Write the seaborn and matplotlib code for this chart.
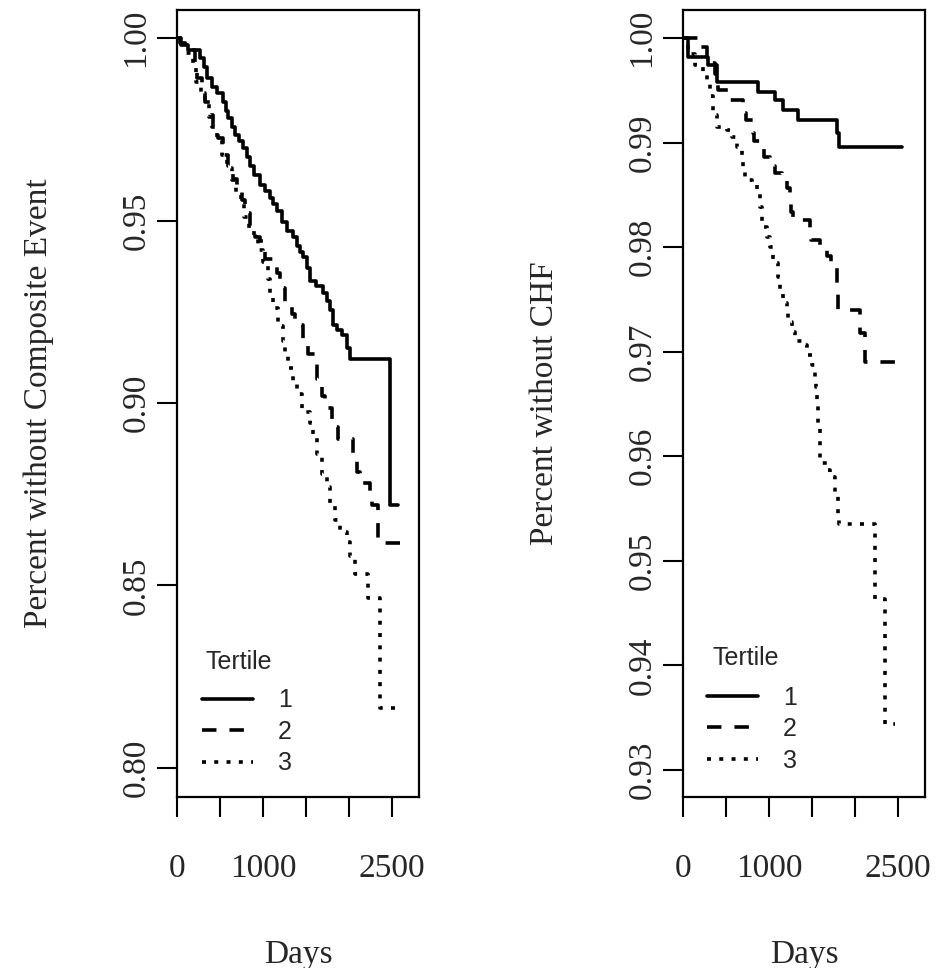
import pandas as pd
import numpy as np
import matplotlib
matplotlib.use("Agg")
import matplotlib.pyplot as plt
import seaborn as sns

# ---- Kaplan-Meier step values (days, survival) ----
# left panel: composite event
comp_t1_days = [0, 50, 128, 267, 310, 348, 406, 470, 534, 570, 592, 638, 673, 720, 766, 810,
                847, 900, 963, 1020, 1079, 1120, 1160, 1218, 1280, 1346, 1392, 1430, 1462, 1508,
                1543, 1620, 1694, 1740, 1775, 1810, 1860, 1914, 1972, 2007, 2471, 2564]
comp_t1_surv = [1.0, 0.998, 0.9967, 0.9945, 0.992, 0.989, 0.9865, 0.985, 0.9825, 0.980, 0.978,
                0.9755, 0.9735, 0.9718, 0.970, 0.9675, 0.965, 0.9625, 0.9598, 0.958, 0.9562,
                0.9545, 0.9525, 0.9495, 0.947, 0.9455, 0.943, 0.9415, 0.940, 0.937, 0.9335,
                0.932, 0.930, 0.928, 0.9255, 0.9215, 0.920, 0.9185, 0.915, 0.912, 0.872, 0.872]

comp_t2_days = [0, 35, 116, 209, 232, 290, 325, 383, 418, 476, 534, 592, 650, 696, 754, 789,
                847, 905, 960, 1025, 1160, 1195, 1253, 1334, 1369, 1462, 1520, 1601, 1624, 1682,
                1717, 1798, 1833, 1868, 2042, 2088, 2123, 2239, 2262, 2340, 2668]
comp_t2_surv = [1.0, 0.9986, 0.9967, 0.993, 0.989, 0.985, 0.9825, 0.979, 0.976, 0.9725, 0.968,
                0.965, 0.9615, 0.958, 0.9555, 0.952, 0.9485, 0.9455, 0.9445, 0.9395, 0.9355,
                0.9315, 0.9275, 0.9245, 0.9215, 0.917, 0.9135, 0.911, 0.9065, 0.902, 0.8985,
                0.895, 0.8935, 0.890, 0.886, 0.881, 0.878, 0.8755, 0.872, 0.8615, 0.8615]

comp_t3_days = [0, 30, 100, 190, 225, 280, 320, 370, 410, 465, 520, 580, 640, 690, 745, 780,
                840, 895, 940, 1000, 1056, 1079, 1114, 1172, 1230, 1253, 1288, 1346, 1392, 1450,
                1543, 1578, 1624, 1682, 1740, 1775, 1833, 1891, 1972, 2007, 2065, 2216, 2355, 2530]
comp_t3_surv = [1.0, 0.9985, 0.996, 0.9925, 0.988, 0.9845, 0.982, 0.9785, 0.9755, 0.972, 0.968,
                0.9645, 0.961, 0.9575, 0.955, 0.951, 0.948, 0.945, 0.942, 0.9385, 0.934, 0.930,
                0.926, 0.921, 0.917, 0.913, 0.9095, 0.906, 0.9025, 0.8975, 0.8945, 0.8905, 0.886,
                0.8805, 0.877, 0.8725, 0.868, 0.8645, 0.862, 0.858, 0.853, 0.8465, 0.8165, 0.8165]

# right panel: CHF
chf_t1_days = [0, 58, 290, 394, 870, 1067, 1160, 1334, 1786, 1810, 2552]
chf_t1_surv = [1.0, 0.9982, 0.9974, 0.9958, 0.9948, 0.9941, 0.9931, 0.9922, 0.9909, 0.9896, 0.9896]

chf_t2_days = [0, 180, 275, 371, 406, 545, 696, 730, 812, 830, 916, 940, 1009, 1067, 1148, 1206,
               1241, 1255, 1276, 1473, 1490, 1589, 1670, 1720, 1786, 1798, 2053, 2115, 2600]
chf_t2_surv = [1.0, 0.9991, 0.9976, 0.9966, 0.995, 0.9941, 0.9928, 0.9922, 0.9909, 0.9902, 0.9896,
               0.9886, 0.9878, 0.9871, 0.9864, 0.9857, 0.9845, 0.9834, 0.9826, 0.9816, 0.9807,
               0.980, 0.9792, 0.978, 0.9765, 0.974, 0.9718, 0.969, 0.969]

chf_t3_days = [0, 60, 140, 232, 278, 313, 348, 394, 510, 568, 626, 684, 696, 719, 800, 858, 893,
               916, 974, 1009, 1044, 1102, 1125, 1160, 1206, 1218, 1264, 1299, 1392, 1438, 1497,
               1531, 1545, 1554, 1566, 1589, 1670, 1705, 1763, 1798, 1810, 2227, 2350, 2460]
chf_t3_surv = [1.0, 0.9985, 0.9974, 0.9966, 0.9957, 0.9945, 0.9926, 0.9915, 0.9912, 0.9905, 0.9896,
               0.9888, 0.9877, 0.9864, 0.9859, 0.9851, 0.9838, 0.9819, 0.981, 0.98, 0.9785, 0.9771,
               0.9759, 0.9747, 0.974, 0.9728, 0.9719, 0.971, 0.9706, 0.9697, 0.9687, 0.9676,
               0.9666, 0.9648, 0.963, 0.9594, 0.9587, 0.958, 0.9565, 0.9545, 0.9535, 0.9464,
               0.9344, 0.9344]

tertiles = ["1", "2", "3"]
x_ticks = [0, 500, 1000, 1500, 2000, 2500]
x_ticklabels = ["0", "", "1000", "", "", "2500"]
comp_yticks = [0.80, 0.85, 0.90, 0.95, 1.00]
chf_yticks = [0.93, 0.94, 0.95, 0.96, 0.97, 0.98, 0.99, 1.00]


def make_frame(series):
    parts = []
    for tert, (d, s) in zip(tertiles, series):
        parts.append(pd.DataFrame({"days": d, "surv": s, "tertile": tert}))
    return pd.concat(parts, ignore_index=True)


comp = make_frame([(comp_t1_days, comp_t1_surv), (comp_t2_days, comp_t2_surv),
                   (comp_t3_days, comp_t3_surv)])
chf = make_frame([(chf_t1_days, chf_t1_surv), (chf_t2_days, chf_t2_surv),
                  (chf_t3_days, chf_t3_surv)])

sns.set_style("ticks")
plt.rcParams["font.family"] = ["Liberation Serif", "DejaVu Serif"]
plt.rcParams["axes.linewidth"] = 1.6

LW = 2.6
dash_map = {"1": "", "2": (4.0, 3.6), "3": (1.1, 2.3)}

fig = plt.figure(figsize=(9.4, 9.68), dpi=100)
ax_l = fig.add_axes([177 / 940, 1 - 797 / 968, 242 / 940, 787 / 968])
ax_r = fig.add_axes([683 / 940, 1 - 797 / 968, 242 / 940, 787 / 968])


def draw(ax, df, ylim, yticks, ylabel, title_xy, leg_xy):
    sns.lineplot(data=df, x="days", y="surv", style="tertile", dashes=dash_map,
                 color="black", linewidth=LW, drawstyle="steps-post",
                 estimator=None, sort=False, ax=ax, legend=True)
    ax.set_xlim(0, 2814)
    ax.set_ylim(*ylim)
    ax.set_xticks(x_ticks)
    ax.set_xticklabels(x_ticklabels)
    ax.set_yticks(yticks)
    ax.set_yticklabels([f"{v:.2f}" for v in yticks])
    ax.tick_params(axis="both", direction="out", length=14.5, width=1.5,
                   labelsize=24, color="black")
    ax.tick_params(axis="x", pad=26)
    ax.tick_params(axis="y", pad=4)
    for lab in ax.get_yticklabels():
        lab.set_rotation(90)
        lab.set_va("center")
        lab.set_ha("right")
    for sp in ax.spines.values():
        sp.set_visible(True)
        sp.set_color("black")
    ax.set_xlabel("Days", fontsize=24, labelpad=40)
    ax.set_ylabel(ylabel, fontsize=24, labelpad=48)
    handles, labels = ax.get_legend_handles_labels()
    keep = [(h, l) for h, l in zip(handles, labels) if l in tertiles]
    leg = ax.legend([h for h, _ in keep], [l for _, l in keep],
                    loc="center left", bbox_to_anchor=leg_xy, frameon=False,
                    prop={"family": "Liberation Sans", "size": 18},
                    handlelength=2.05, handletextpad=1.0, labelspacing=0.3,
                    borderpad=0, borderaxespad=0)
    for h in leg.get_lines():
        h.set_linewidth(LW)
    ax.text(title_xy[0], title_xy[1], "Tertile", transform=ax.transAxes,
            family="Liberation Sans", fontsize=18, ha="left", va="center")


draw(ax_l, comp, (0.7920, 1.0077), comp_yticks, "Percent without Composite Event",
     (0.116, 0.1715), (0.103, 0.0826))
draw(ax_r, chf, (0.92742, 1.00268), chf_yticks, "Percent without CHF",
     (0.12, 0.1766), (0.099, 0.0864))

fig.savefig("out.png", dpi=100, facecolor="white")
